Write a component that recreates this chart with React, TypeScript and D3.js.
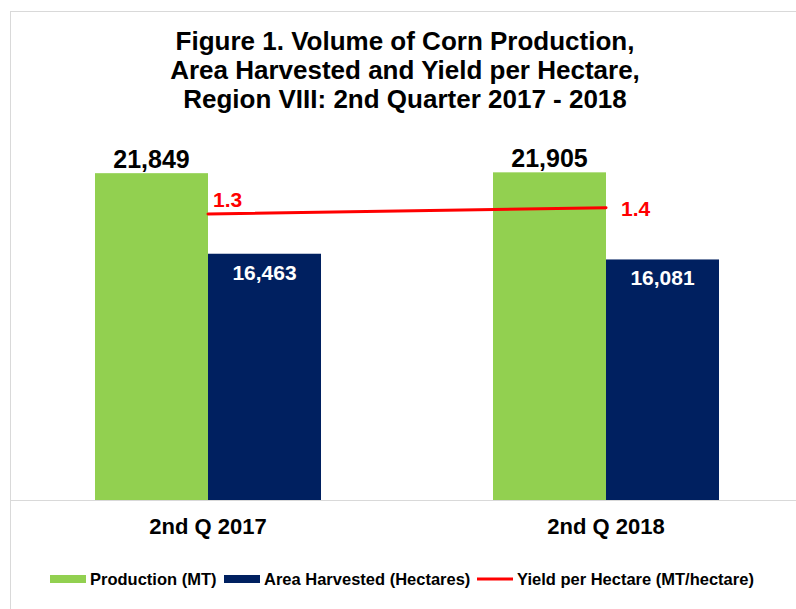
import { useRef, useEffect } from "react";
import * as d3 from "d3";

const categories = ["2nd Q 2017", "2nd Q 2018"];
const production = [21849, 21905];
const areaHarvested = [16463, 16081];
const yieldValues = [1.33, 1.36];
const yieldLabels = ["1.3", "1.4"];
const titleLines = [
  "Figure 1. Volume of Corn Production,",
  "Area Harvested and Yield per Hectare,",
  "Region VIII: 2nd Quarter 2017 - 2018",
];
const seriesNames = ["Production (MT)", "Area Harvested (Hectares)", "Yield per Hectare (MT/hectare)"];

const width = 796;
const height = 609;
const font = "'Liberation Sans', Arial, sans-serif";

const App = () => {
  const svgRef = useRef<SVGSVGElement | null>(null);

  useEffect(() => {
    if (!svgRef.current) return;
    const svg = d3.select(svgRef.current);
    svg.selectAll("*").remove();

    const baseY = 500;
    const topY = 141;

    // chart frame
    svg.append("rect")
      .attr("x", 10.5).attr("y", 11.5)
      .attr("width", 800).attr("height", 620)
      .attr("fill", "#fff")
      .attr("stroke", "#d9d9d9")
      .attr("stroke-width", 1);

    // title
    svg.append("g").selectAll("text")
      .data(titleLines)
      .enter()
      .append("text")
      .attr("x", 405)
      .attr("y", (_, i) => 50 + i * 29)
      .attr("text-anchor", "middle")
      .attr("font-family", font)
      .attr("font-weight", "bold")
      .attr("font-size", "26px")
      .attr("fill", "#000")
      .text(d => d);

    // scales
    const x0 = d3.scaleBand<string>()
      .domain(categories)
      .range([9, 805])
      .paddingInner(0)
      .paddingOuter(0);

    const x1 = d3.scaleBand<string>()
      .domain(["production", "area"])
      .range([0, x0.bandwidth()])
      .paddingInner(0)
      .paddingOuter(0.761);

    const y = d3.scaleLinear().domain([0, 24000]).range([baseY, topY]);
    const y2 = d3.scaleLinear().domain([0, 1.67]).range([baseY, topY]);

    // baseline
    svg.append("line")
      .attr("x1", 10).attr("x2", width)
      .attr("y1", baseY + 0.5).attr("y2", baseY + 0.5)
      .attr("stroke", "#d9d9d9")
      .attr("stroke-width", 1);

    const groups = svg.append("g").selectAll("g")
      .data(categories)
      .enter()
      .append("g")
      .attr("transform", d => `translate(${x0(d)},0)`);

    // production bars
    groups.append("rect")
      .attr("x", x1("production") || 0)
      .attr("width", x1.bandwidth())
      .attr("y", (_, i) => y(production[i]))
      .attr("height", (_, i) => baseY - y(production[i]))
      .attr("fill", "#92D050");

    // area bars
    groups.append("rect")
      .attr("x", x1("area") || 0)
      .attr("width", x1.bandwidth())
      .attr("y", (_, i) => y(areaHarvested[i]))
      .attr("height", (_, i) => baseY - y(areaHarvested[i]))
      .attr("fill", "#002060");

    // production labels
    groups.append("text")
      .attr("x", (x1("production") || 0) + x1.bandwidth() / 2)
      .attr("y", (_, i) => y(production[i]) - 5)
      .attr("text-anchor", "middle")
      .attr("font-family", font)
      .attr("font-weight", "bold")
      .attr("font-size", "25px")
      .attr("fill", "#000")
      .text((_, i) => d3.format(",")(production[i]));

    // area labels
    groups.append("text")
      .attr("x", (x1("area") || 0) + x1.bandwidth() / 2)
      .attr("y", (_, i) => y(areaHarvested[i]) + 26)
      .attr("text-anchor", "middle")
      .attr("font-family", font)
      .attr("font-weight", "bold")
      .attr("font-size", "21px")
      .attr("fill", "#fff")
      .text((_, i) => d3.format(",")(areaHarvested[i]));

    // yield line
    const cx = (c: string) => (x0(c) || 0) + x0.bandwidth() / 2;
    const line = d3.line<number>()
      .x((_, i) => cx(categories[i]))
      .y(d => y2(d));

    svg.append("path")
      .datum(yieldValues)
      .attr("d", line)
      .attr("fill", "none")
      .attr("stroke", "#FF0000")
      .attr("stroke-width", 3)
      .attr("stroke-linecap", "round");

    svg.append("g").selectAll("text")
      .data(yieldValues)
      .enter()
      .append("text")
      .attr("x", (_, i) => cx(categories[i]) + (i === 0 ? 5 : 15))
      .attr("y", (d, i) => y2(d) + (i === 0 ? -7 : 8))
      .attr("font-family", font)
      .attr("font-weight", "bold")
      .attr("font-size", "21px")
      .attr("fill", "#FF0000")
      .text((_, i) => yieldLabels[i]);

    // category labels
    svg.append("g").selectAll("text")
      .data(categories)
      .enter()
      .append("text")
      .attr("x", d => cx(d))
      .attr("y", 534)
      .attr("text-anchor", "middle")
      .attr("font-family", font)
      .attr("font-weight", "bold")
      .attr("font-size", "22px")
      .attr("fill", "#000")
      .text(d => d);

    // legend
    const legendX = [50, 224, 477];
    const legend = svg.append("g");
    legend.append("rect")
      .attr("x", legendX[0]).attr("y", 575)
      .attr("width", 36).attr("height", 8)
      .attr("fill", "#92D050");
    legend.append("rect")
      .attr("x", legendX[1]).attr("y", 575)
      .attr("width", 36).attr("height", 8)
      .attr("fill", "#002060");
    legend.append("line")
      .attr("x1", legendX[2]).attr("x2", legendX[2] + 36)
      .attr("y1", 579).attr("y2", 579)
      .attr("stroke", "#FF0000")
      .attr("stroke-width", 3);
    legend.selectAll("text")
      .data(seriesNames)
      .enter()
      .append("text")
      .attr("x", (_, i) => legendX[i] + 40)
      .attr("y", 585)
      .attr("font-family", font)
      .attr("font-weight", "bold")
      .attr("font-size", "16.5px")
      .attr("fill", "#000")
      .text(d => d);
  }, []);

  return (
    <div style={{ position: "absolute", left: 0, top: 0, width, height, overflow: "hidden", background: "#fff" }}>
      <svg ref={svgRef} width={width} height={height} viewBox={`0 0 ${width} ${height}`}></svg>
    </div>
  );
};

export default App;
